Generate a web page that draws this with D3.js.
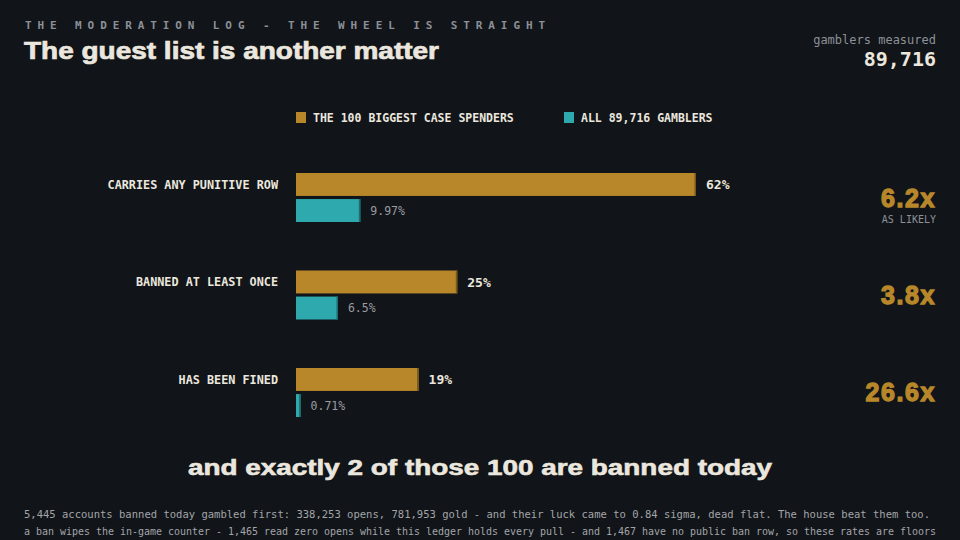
<!DOCTYPE html>
<html>
<head>
<meta charset="utf-8">
<script src="https://cdn.jsdelivr.net/npm/d3@7"></script>
<style>
  html, body { margin: 0; padding: 0; background: #111419; }
  svg { display: block; }
  .mono { font-family: "DejaVu Sans Mono", "Liberation Mono", monospace; }
  .heavy { font-family: "Liberation Sans", Arial, sans-serif; font-weight: 700; }
</style>
</head>
<body>
<div id="chart"></div>
<script>
// data
const categories = ["CARRIES ANY PUNITIVE ROW", "BANNED AT LEAST ONCE", "HAS BEEN FINED"];
const series = ["top", "all"];
const seriesLabels = ["THE 100 BIGGEST CASE SPENDERS", "ALL 89,716 GAMBLERS"];
const topValues = [62, 25, 19];
const allValues = [9.97, 6.5, 0.71];
const topLabels = ["62%", "25%", "19%"];
const allLabels = ["9.97%", "6.5%", "0.71%"];
const ratioLabels = ["6.2x", "3.8x", "26.6x"];

const W = 960, H = 540;
const bg = "#111419", gold = "#b7872a", teal = "#2ea9ae";
const ink = "#ebe7de", grey = "#8c9097";

const svg = d3.select("#chart").append("svg")
    .attr("width", W)
    .attr("height", H);

svg.append("rect").attr("width", W).attr("height", H).attr("fill", bg);

// header
svg.append("text")
    .attr("class", "mono")
    .attr("x", 25).attr("y", 29)
    .attr("fill", grey)
    .attr("font-size", 11)
    .attr("font-weight", 700)
    .attr("letter-spacing", 5.9)
    .text("THE MODERATION LOG - THE WHEEL IS STRAIGHT");

svg.append("text")
    .attr("class", "heavy")
    .attr("x", 24).attr("y", 59)
    .attr("fill", ink)
    .attr("stroke", ink)
    .attr("stroke-width", 0.7)
    .attr("font-size", 24)
    .attr("textLength", 415)
    .attr("lengthAdjust", "spacingAndGlyphs")
    .text("The guest list is another matter");

svg.append("text")
    .attr("class", "mono")
    .attr("x", 936).attr("y", 44)
    .attr("text-anchor", "end")
    .attr("fill", grey)
    .attr("font-size", 12)
    .text("gamblers measured");

svg.append("text")
    .attr("class", "mono")
    .attr("x", 936).attr("y", 66)
    .attr("text-anchor", "end")
    .attr("fill", ink)
    .attr("font-size", 20)
    .attr("font-weight", 700)
    .text("89,716");

// scales
const x = d3.scaleLinear().domain([0, 62]).range([296, 696]);
const y = d3.scaleBand().domain(categories).range([173, 417]).paddingInner(0.4974).paddingOuter(0);
const ySub = d3.scaleBand().domain(series).range([0, y.bandwidth()]).paddingInner(0.12);
const color = d3.scaleOrdinal().domain(series).range([gold, teal]);

// legend
const legendX = [296, 564];
const legend = svg.append("g").selectAll("g")
    .data(series)
    .enter().append("g")
    .attr("transform", (d, i) => `translate(${legendX[i]},112)`);

legend.append("rect")
    .attr("width", 10).attr("height", 11)
    .attr("fill", d => color(d));

legend.append("text")
    .attr("class", "mono")
    .attr("x", 17).attr("y", 10)
    .attr("fill", ink)
    .attr("font-size", 11.5)
    .attr("font-weight", 700)
    .text((d, i) => seriesLabels[i]);

// rows
const rows = categories.map((c, i) => ({
    cat: c,
    bars: [
        { key: "top", value: topValues[i], label: topLabels[i] },
        { key: "all", value: allValues[i], label: allLabels[i] }
    ],
    ratio: ratioLabels[i]
}));

const row = svg.append("g").selectAll(".row")
    .data(rows)
    .enter().append("g")
    .attr("class", "row")
    .attr("transform", d => `translate(0,${y(d.cat)})`);

row.append("text")
    .attr("class", "mono")
    .attr("x", 278)
    .attr("y", ySub("top") + ySub.bandwidth() / 2)
    .attr("dy", "0.35em")
    .attr("text-anchor", "end")
    .attr("fill", ink)
    .attr("font-size", 11.8)
    .attr("font-weight", 700)
    .text(d => d.cat);

const bar = row.selectAll(".bar")
    .data(d => d.bars)
    .enter().append("g")
    .attr("class", "bar")
    .attr("transform", d => `translate(0,${ySub(d.key)})`);

bar.append("rect")
    .attr("x", x(0))
    .attr("width", d => x(d.value) - x(0))
    .attr("height", ySub.bandwidth())
    .attr("fill", d => color(d.key));

// darker end cap
bar.append("rect")
    .attr("x", d => x(d.value) - 1.5)
    .attr("width", 1.5)
    .attr("height", ySub.bandwidth())
    .attr("fill", d => d3.color(color(d.key)).darker(1.2));

bar.append("text")
    .attr("class", "mono")
    .attr("x", d => x(d.value) + 10)
    .attr("y", ySub.bandwidth() / 2)
    .attr("dy", "0.36em")
    .attr("fill", d => d.key === "top" ? ink : "#9a9ca0")
    .attr("font-size", d => d.key === "top" ? 13 : 11.5)
    .attr("font-weight", d => d.key === "top" ? 700 : 400)
    .text(d => d.label);

row.append("text")
    .attr("class", "heavy")
    .attr("x", 936)
    .attr("y", y.bandwidth() / 2)
    .attr("dy", "0.36em")
    .attr("text-anchor", "end")
    .attr("fill", gold)
    .attr("stroke", gold)
    .attr("stroke-width", 1.3)
    .attr("letter-spacing", 1.6)
    .attr("font-size", 25)
    .text(d => d.ratio);

row.filter((d, i) => i === 0).append("text")
    .attr("class", "mono")
    .attr("x", 936)
    .attr("y", y.bandwidth() / 2 + 25)
    .attr("text-anchor", "end")
    .attr("fill", grey)
    .attr("font-size", 10)
    .text("AS LIKELY");

// punchline
svg.append("text")
    .attr("class", "heavy")
    .attr("x", 480).attr("y", 475)
    .attr("text-anchor", "middle")
    .attr("fill", ink)
    .attr("stroke", ink)
    .attr("stroke-width", 0.6)
    .attr("font-size", 22)
    .attr("textLength", 584)
    .attr("lengthAdjust", "spacingAndGlyphs")
    .text("and exactly 2 of those 100 are banned today");

// footnotes
svg.append("text")
    .attr("class", "mono")
    .attr("x", 24).attr("y", 518)
    .attr("fill", "#a3a5a8")
    .attr("font-size", 10.5)
    .attr("textLength", 906)
    .attr("lengthAdjust", "spacingAndGlyphs")
    .text("5,445 accounts banned today gambled first: 338,253 opens, 781,953 gold - and their luck came to 0.84 sigma, dead flat. The house beat them too.");

svg.append("text")
    .attr("class", "mono")
    .attr("x", 24).attr("y", 535)
    .attr("fill", "#a3a5a8")
    .attr("font-size", 10)
    .attr("textLength", 912)
    .attr("lengthAdjust", "spacingAndGlyphs")
    .text("a ban wipes the in-game counter - 1,465 read zero opens while this ledger holds every pull - and 1,467 have no public ban row, so these rates are floors");
</script>
</body>
</html>
